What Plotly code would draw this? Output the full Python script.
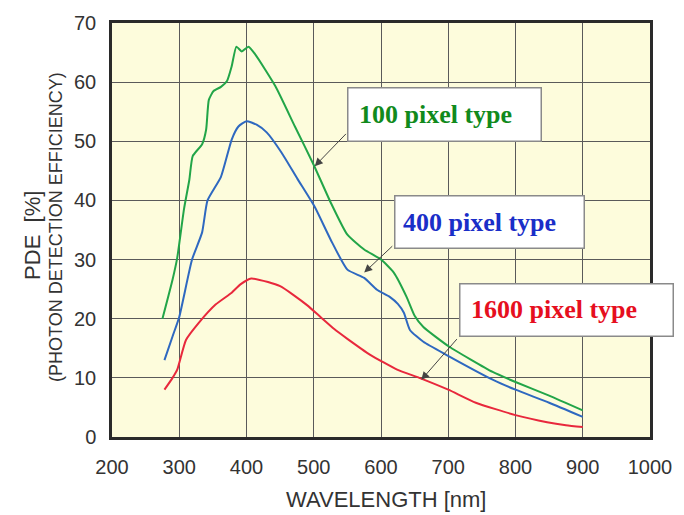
import plotly.graph_objects as go

# ---- data ----
wl_100 = [275, 290, 297, 307, 315, 320, 334, 340, 344, 351, 362, 371, 378, 385, 393, 403, 413, 443, 472,
          500, 525, 550, 575, 600, 619, 638, 650, 663, 701, 766, 800, 850, 900]
pde_100 = [20, 26.6, 30.3, 38.5, 43.5, 47.5, 49.5, 52, 57, 58.5, 59.2, 60.2, 62.7, 66, 65.2, 66, 64.7, 59.3, 52.5,
           46, 39.7, 34.2, 31.7, 30, 27.8, 23.7, 20.5, 18.6, 15.3, 11, 9.3, 7, 4.5]

wl_400 = [278, 290, 300, 319, 334, 342, 362, 378, 388, 400, 415, 430, 452, 476, 501, 525, 550, 575, 594,
          613, 625, 634, 643, 663, 697, 766, 800, 850, 900]
pde_400 = [13, 17, 20.3, 30, 34.6, 40, 44, 50.3, 52.5, 53.4, 52.8, 51.5, 48.1, 43.6, 39, 33.4, 28.3, 26.9, 24.9,
           23.7, 22.5, 21, 18.1, 16.1, 13.9, 9.7, 8, 5.8, 3.4]

wl_1600 = [278, 290, 297, 310, 329, 354, 378, 391, 407, 432, 450, 470, 490, 510, 530, 550, 584, 624, 657, 700,
           741, 800, 847, 875, 900]
pde_1600 = [8, 10, 11.4, 16.4, 19.3, 22.4, 24.4, 25.8, 26.8, 26.2, 25.5, 24, 22.3, 20.3, 18.3, 16.6, 13.9, 11.4,
            10, 8, 5.8, 3.7, 2.5, 2.0, 1.7]

series_names = ["100 pixel type", "400 pixel type", "1600 pixel type"]
x_ticks = [200, 300, 400, 500, 600, 700, 800, 900, 1000]
y_ticks = [0, 10, 20, 30, 40, 50, 60, 70]

line_colors = ["#22a548", "#2e68c0", "#e8283c"]
text_colors = ["#118a1c", "#1a2ec8", "#e60f1e"]

fig = go.Figure()
for xs, ys, c, n in zip([wl_100, wl_400, wl_1600], [pde_100, pde_400, pde_1600], line_colors, series_names):
    fig.add_trace(go.Scatter(x=xs, y=ys, mode="lines", name=n,
                             line=dict(color=c, width=2, shape="spline", smoothing=0.5)))

axis_common = dict(showline=True, linecolor="#2a2a2a", linewidth=2.5, mirror=True,
                   showgrid=True, gridcolor="#5a5a5a", gridwidth=1.2, zeroline=False,
                   ticks="", tickfont=dict(family="Liberation Sans, Arial", size=20, color="#333333"))

fig.update_layout(
    width=684, height=515,
    margin=dict(l=112, r=28, t=23, b=78),
    paper_bgcolor="white", plot_bgcolor="#fdfcdc",
    showlegend=False,
    xaxis=dict(range=[200, 1000], tickvals=x_ticks, ticklabelstandoff=10, **axis_common),
    yaxis=dict(range=[0, 70], tickvals=y_ticks, ticklabelstandoff=9, **axis_common),
)

# titles
title_font = dict(family="Liberation Sans, Arial", color="#333333")
fig.add_annotation(text="WAVELENGTH [nm]", xref="paper", yref="paper", x=0.509, y=-0.152,
                   showarrow=False, xanchor="center", yanchor="middle", font=dict(size=22, **title_font))
fig.add_annotation(text="PDE  [%]", xref="paper", yref="paper", x=-0.147, y=0.488, textangle=-90,
                   showarrow=False, xanchor="center", yanchor="middle", font=dict(size=22, **title_font))
fig.add_annotation(text="(PHOTON DETECTION EFFICIENCY)", xref="paper", yref="paper", x=-0.105, y=0.506,
                   textangle=-90, showarrow=False, xanchor="center", yanchor="middle",
                   font=dict(size=18, **title_font))

# label boxes: (box left x, box top y, box w, box h, text x, text y)
boxes = [
    (550, 59.15, 192, 52, 564.7, 54.5),
    (619.1, 40.85, 188, 51, 629.4, 36.3),
    (716.2, 26.1, 212, 51, 730.9, 21.5),
]
arrows = [  # (tip x, tip y, tail x, tail y)
    (501.5, 45.8, 550, 51.5),
    (575, 27.8, 619, 32.5),
    (660, 9.66, 714.7, 16.8),
]
for (bx, by, bw, bh, tx, ty), (px, py, qx, qy), name, tc in zip(boxes, arrows, series_names, text_colors):
    fig.add_annotation(x=px, y=py, ax=qx, ay=qy, axref="x", ayref="y", text="", showarrow=True,
                       arrowhead=2, arrowsize=1.6, arrowwidth=1, arrowcolor="#444444", standoff=0)
    fig.add_annotation(x=bx, y=by, xref="x", yref="y", text="&nbsp;", showarrow=False,
                       xanchor="left", yanchor="top", width=bw, height=bh, borderpad=0,
                       bgcolor="white", bordercolor="#8a8a8a", borderwidth=1.5)
    fig.add_annotation(x=tx, y=ty, xref="x", yref="y", text="<b>%s</b>" % name, showarrow=False,
                       xanchor="left", yanchor="middle",
                       font=dict(family="Liberation Serif, Times New Roman", size=26, color=tc))

fig.write_html("out.html")
